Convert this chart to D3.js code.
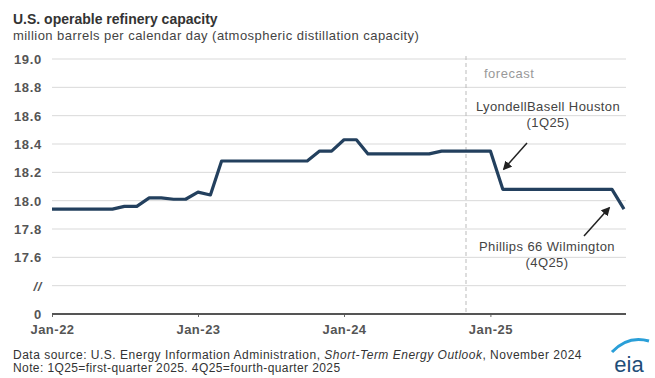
<!DOCTYPE html>
<html>
<head>
<meta charset="utf-8">
<script src="https://cdn.jsdelivr.net/npm/d3@7"></script>
<style>
  body { margin: 0; background: #fff; }
  svg { display: block; font-family: "Liberation Sans", Arial, sans-serif; }
</style>
</head>
<body>
<svg id="chart" width="655" height="378"></svg>
<script>
// monthly, Jan-22 .. Dec-25
const months = d3.timeMonth.range(new Date(2022, 0, 1), new Date(2026, 0, 1));
const capacity = [
  17.94, 17.94, 17.94, 17.94, 17.94, 17.94, 17.96, 17.96, 18.02, 18.02, 18.01, 18.01,
  18.06, 18.04, 18.28, 18.28, 18.28, 18.28, 18.28, 18.28, 18.28, 18.28, 18.35, 18.35,
  18.43, 18.43, 18.33, 18.33, 18.33, 18.33, 18.33, 18.33, 18.35, 18.35, 18.35, 18.35,
  18.35, 18.08, 18.08, 18.08, 18.08, 18.08, 18.08, 18.08, 18.08, 18.08, 18.08, 17.94
];
const yTicks = [17.2, 17.4, 17.6, 17.8, 18.0, 18.2, 18.4, 18.6, 18.8, 19.0];
const yLabels = ["0", "//", "17.6", "17.8", "18.0", "18.2", "18.4", "18.6", "18.8", "19.0"];
const xTicks = [new Date(2022, 0, 1), new Date(2023, 0, 1), new Date(2024, 0, 1), new Date(2025, 0, 1)];
const forecastStart = new Date(2024, 10, 1);
const notes = [
  { text: ["LyondellBasell Houston", "(1Q25)"], at: [548, 111], from: [527, 143], to: [504, 169] },
  { text: ["Phillips 66 Wilmington", "(4Q25)"], at: [547, 251], from: [584, 236], to: [609, 208] }
];

const svg = d3.select("#chart");

const x = d3.scaleTime()
  .domain([months[0], months[months.length - 1]])
  .range([52, 624]);
const y = d3.scaleLinear()
  .domain([17.2, 19.0])
  .range([314, 59]);

// titles
svg.append("text")
  .attr("x", 13).attr("y", 24)
  .attr("font-size", 14).attr("font-weight", "bold").attr("fill", "#333")
  .text("U.S. operable refinery capacity");
svg.append("text")
  .attr("x", 13).attr("y", 40)
  .attr("font-size", 13).attr("letter-spacing", 0.45).attr("fill", "#444")
  .text("million barrels per calendar day (atmospheric distillation capacity)");

// gridlines
svg.append("g")
  .selectAll("line")
  .data(yTicks.filter(d => d > 17.2))
  .join("line")
    .attr("x1", 52).attr("x2", 626)
    .attr("y1", d => y(d)).attr("y2", d => y(d))
    .attr("stroke", "#d9d9d9").attr("stroke-width", 1);

// y labels
svg.append("g")
  .selectAll("text")
  .data(yTicks)
  .join("text")
    .attr("x", 42)
    .attr("y", d => y(d) + 5)
    .attr("text-anchor", "end")
    .attr("font-size", 13).attr("letter-spacing", 0.7)
    .attr("font-weight", "bold").attr("fill", "#555")
    .attr("font-style", (d, i) => yLabels[i] == "//" ? "italic" : null)
    .text((d, i) => yLabels[i]);

// forecast divider
svg.append("line")
  .attr("x1", x(forecastStart)).attr("x2", x(forecastStart))
  .attr("y1", 56).attr("y2", 313)
  .attr("stroke", "#bbb").attr("stroke-dasharray", "4,3");
svg.append("text")
  .attr("x", x(forecastStart) + 18).attr("y", 78)
  .attr("font-size", 13).attr("letter-spacing", 0.5).attr("fill", "#999")
  .text("forecast");

// x axis
const xAxis = d3.axisBottom(x)
  .tickValues(xTicks)
  .tickFormat(d3.timeFormat("%b-%y"))
  .tickSize(3);
const gx = svg.append("g")
  .attr("transform", `translate(0,${y(17.2)})`)
  .call(xAxis);
gx.select(".domain").remove();
gx.selectAll(".tick line").attr("stroke", "#666");
gx.selectAll(".tick text")
  .attr("font-family", "Liberation Sans, Arial, sans-serif")
  .attr("font-size", 13).attr("letter-spacing", 0.5)
  .attr("font-weight", "bold").attr("fill", "#555")
  .attr("dy", "1.1em");
svg.append("line")
  .attr("x1", 52).attr("x2", 626)
  .attr("y1", y(17.2)).attr("y2", y(17.2))
  .attr("stroke", "#555").attr("stroke-width", 2);

// series
const line = d3.line()
  .x((d, i) => x(months[i]))
  .y(d => y(d));
svg.append("path")
  .datum(capacity)
  .attr("d", line)
  .attr("fill", "none")
  .attr("stroke", "#23405e")
  .attr("stroke-width", 3.2)
  .attr("stroke-linejoin", "round");

// annotations
svg.append("defs").append("marker")
  .attr("id", "arrow")
  .attr("viewBox", "0 0 10 10")
  .attr("refX", 8).attr("refY", 5)
  .attr("markerWidth", 6).attr("markerHeight", 6)
  .attr("orient", "auto")
  .append("path")
    .attr("d", "M0,0L10,5L0,10z")
    .attr("fill", "#222");

notes.forEach(n => {
  const t = svg.append("text")
    .attr("text-anchor", "middle")
    .attr("font-size", 13).attr("letter-spacing", 0.4).attr("fill", "#444");
  n.text.forEach((s, i) => {
    t.append("tspan").attr("x", n.at[0]).attr("y", n.at[1] + i * 16).text(s);
  });
  svg.append("line")
    .attr("x1", n.from[0]).attr("y1", n.from[1])
    .attr("x2", n.to[0]).attr("y2", n.to[1])
    .attr("stroke", "#222").attr("stroke-width", 1.5)
    .attr("marker-end", "url(#arrow)");
});

// source
svg.append("text")
  .attr("x", 13).attr("y", 359)
  .attr("font-size", 12).attr("letter-spacing", 0.5).attr("fill", "#333")
  .call(t => {
    t.append("tspan").text("Data source: U.S. Energy Information Administration, ");
    t.append("tspan").attr("font-style", "italic").text("Short-Term Energy Outlook");
    t.append("tspan").text(", November 2024");
  });
svg.append("text")
  .attr("x", 13).attr("y", 372)
  .attr("font-size", 12).attr("letter-spacing", 0.4).attr("fill", "#333")
  .text("Note: 1Q25=first-quarter 2025. 4Q25=fourth-quarter 2025");

// eia logo
svg.append("path")
  .attr("d", "M612,352 Q628,335 649,341")
  .attr("fill", "none").attr("stroke", "#2a9fd8").attr("stroke-width", 3);
svg.append("text")
  .attr("x", 629).attr("y", 372)
  .attr("text-anchor", "middle")
  .attr("font-size", 22).attr("fill", "#1f4e79")
  .text("eia");
</script>
</body>
</html>
